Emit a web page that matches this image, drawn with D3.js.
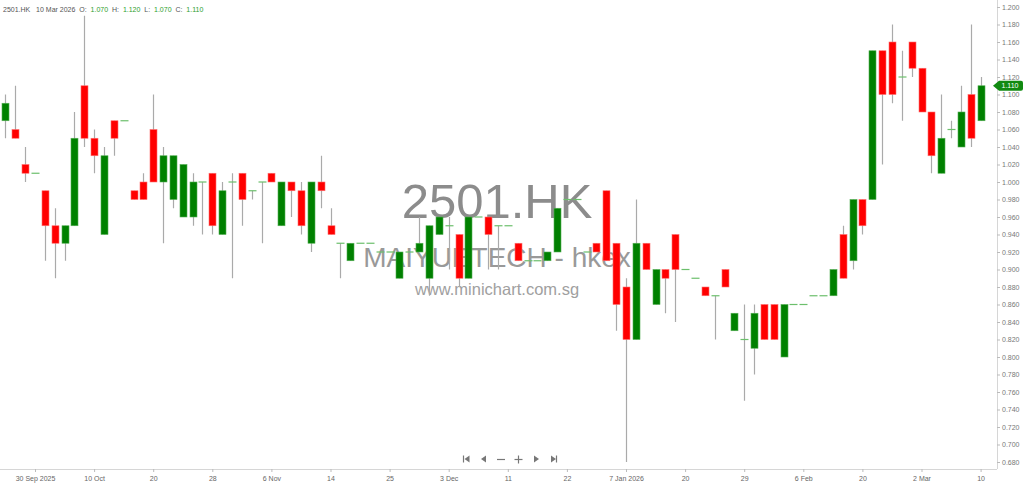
<!DOCTYPE html>
<html><head><meta charset="utf-8">
<script src="https://cdn.jsdelivr.net/npm/d3@7"></script>
<style>
html,body{margin:0;padding:0;background:#fff;}
svg{display:block;font-family:"Liberation Sans",Arial,sans-serif;}
</style></head>
<body><svg id="c" width="1024" height="484"></svg>
<script>
const symbol = "2501.HK";
const lastDate = "10 Mar 2026";
const opens  = [1.07,1.06,1.02,1.01,0.99,0.95,0.93,0.95,1.11,1.05,0.94,1.07,1.07,0.99,1.00,1.06,1.00,0.98,0.96,0.96,
                1.00,1.01,0.94,1.00,1.01,0.99,1.00,1.01,0.95,1.00,0.99,0.93,1.00,0.95,0.93,0.91,0.93,0.93,0.92,0.92,
                0.89,0.92,0.92,0.89,0.94,0.95,0.94,0.89,0.96,0.96,0.95,0.95,0.93,0.91,0.91,0.91,0.92,0.98,0.98,0.92,
                0.93,0.99,0.93,0.88,0.82,0.93,0.86,0.90,0.94,0.90,0.89,0.88,0.87,0.90,0.83,0.82,0.81,0.86,0.86,0.80,
                0.86,0.86,0.87,0.87,0.87,0.94,0.91,0.98,0.98,1.15,1.16,1.12,1.16,1.13,1.08,1.01,1.06,1.04,1.10,1.07];
const highs  = [1.10,1.11,1.04,1.01,0.99,0.97,0.95,1.08,1.19,1.06,1.04,1.07,1.07,0.99,1.01,1.10,1.04,1.03,1.02,1.01,
                1.00,1.01,1.00,1.01,1.01,0.99,1.00,1.01,1.00,1.00,1.00,1.00,1.03,0.97,0.93,0.93,0.93,0.93,0.92,0.92,
                0.92,0.92,0.96,0.95,0.96,0.96,0.94,0.96,0.96,0.96,0.95,0.95,0.93,0.91,0.91,0.92,0.97,0.98,0.98,0.92,
                0.93,0.99,0.93,0.89,0.98,0.93,0.90,0.90,0.94,0.90,0.89,0.88,0.87,0.90,0.85,0.86,0.86,0.86,0.86,0.86,
                0.86,0.86,0.87,0.87,0.90,0.95,0.98,0.98,1.15,1.15,1.18,1.15,1.16,1.13,1.08,1.10,1.07,1.11,1.18,1.12];
const lows   = [1.05,1.05,1.00,1.01,0.91,0.89,0.91,0.95,1.04,1.01,0.94,1.03,1.07,0.98,0.98,1.00,0.93,0.97,0.96,0.95,
                0.94,0.94,0.94,0.89,0.95,0.98,0.93,1.00,0.95,0.96,0.94,0.92,0.97,0.94,0.89,0.91,0.93,0.93,0.92,0.92,
                0.89,0.92,0.92,0.87,0.94,0.90,0.88,0.89,0.96,0.90,0.90,0.95,0.91,0.91,0.91,0.91,0.92,0.98,0.98,0.92,
                0.92,0.91,0.83,0.68,0.82,0.90,0.86,0.85,0.84,0.90,0.89,0.87,0.82,0.88,0.83,0.75,0.78,0.82,0.82,0.80,
                0.86,0.86,0.87,0.87,0.87,0.89,0.90,0.94,0.98,1.02,1.09,1.07,1.12,1.08,1.01,1.01,1.05,1.04,1.04,1.07];
const closes = [1.09,1.05,1.01,1.01,0.95,0.93,0.95,1.05,1.05,1.03,1.03,1.05,1.07,0.98,0.98,1.00,1.03,1.03,1.02,1.00,
                1.00,0.95,0.99,1.00,0.98,0.99,1.00,1.00,1.00,0.99,0.95,1.00,0.99,0.94,0.93,0.93,0.93,0.93,0.92,0.92,
                0.92,0.92,0.93,0.95,0.96,0.95,0.89,0.96,0.96,0.94,0.95,0.95,0.91,0.91,0.91,0.92,0.97,0.98,0.98,0.92,
                0.92,0.91,0.86,0.82,0.93,0.90,0.90,0.89,0.90,0.90,0.89,0.87,0.87,0.88,0.85,0.82,0.85,0.82,0.82,0.86,
                0.86,0.86,0.87,0.87,0.90,0.89,0.98,0.95,1.15,1.10,1.10,1.12,1.13,1.08,1.03,1.05,1.06,1.08,1.05,1.11];
const tickIdx    = [3,9,15,21,27,33,39,45,51,57,63,69,75,81,87,93,99];
const tickLabels = ["30 Sep 2025","10 Oct","20","28","6 Nov","14","25","3 Dec","11","22","7 Jan 2026","20","29","6 Feb","20","2 Mar","10"];
const priceTicks = d3.range(0, 27).map(k => +(0.68 + k*0.02).toFixed(3));

const svg = d3.select("#c");
const n = opens.length;
const x = d3.scaleLinear().domain([0, n-1]).range([5.45, 980.6]);
const y = d3.scaleLinear().domain([0.68, 1.20]).range([462, 7]);
const bw = 7;

// watermark
const wm = svg.append("g").attr("fill","#8c8c8c").attr("text-anchor","middle");
wm.append("text").attr("x",497).attr("y",218).attr("font-size",49).text(symbol);
wm.append("text").attr("x",497).attr("y",267).attr("font-size",28).attr("fill","#999").text("MAIYUETECH - hkex");
wm.append("text").attr("x",497).attr("y",295).attr("font-size",16.5).attr("fill","#a0a0a0").text("www.minichart.com.sg");

// axes
const gx = svg.append("g").attr("transform","translate(0,469)")
  .call(d3.axisBottom(x).tickValues(tickIdx).tickFormat((d,i)=>tickLabels[i]).tickSize(3).tickSizeOuter(0));
gx.select(".domain").attr("stroke","#d6d6d6").attr("d","M0,0.5H997");
gx.selectAll(".tick line").attr("stroke","#bbb");
gx.selectAll("text").attr("fill","#666").attr("font-size",7).attr("dy","0.9em");

const gy = svg.append("g").attr("transform","translate(997,0)")
  .call(d3.axisRight(y).tickValues(priceTicks).tickFormat(d3.format(".3f")).tickSize(3).tickSizeOuter(0));
gy.select(".domain").attr("stroke","#d6d6d6").attr("d","M0.5,0V469");
gy.selectAll(".tick line").attr("stroke","#bbb");
gy.selectAll("text").attr("fill","#777").attr("font-size",7).attr("x",5);

// candles
const data = d3.range(n).map(i => ({i, o:opens[i], h:highs[i], l:lows[i], c:closes[i]}));
const g = svg.append("g");
g.selectAll("line.wick").data(data.filter(d => d.h > d.l)).join("line")
  .attr("class","wick")
  .attr("x1", d => Math.round(x(d.i))+0.5).attr("x2", d => Math.round(x(d.i))+0.5)
  .attr("y1", d => y(d.h)).attr("y2", d => y(d.l))
  .attr("stroke","#aaa").attr("stroke-width",1.2);
g.selectAll("rect.body").data(data.filter(d => d.o !== d.c)).join("rect")
  .attr("class","body")
  .attr("x", d => Math.round(x(d.i)) + 0.5 - bw/2)
  .attr("width", bw)
  .attr("y", d => y(Math.max(d.o,d.c)))
  .attr("height", d => Math.abs(y(d.o)-y(d.c)))
  .attr("fill", d => d.c > d.o ? "#008000" : "#ff0000")
  .attr("stroke", d => d.c > d.o ? "#55b055" : "#ff7070").attr("stroke-width",0.6);
g.selectAll("line.doji").data(data.filter(d => d.o === d.c)).join("line")
  .attr("class","doji")
  .attr("x1", d => Math.round(x(d.i)) + 0.5 - 4).attr("x2", d => Math.round(x(d.i)) + 0.5 + 4)
  .attr("y1", d => y(d.c)).attr("y2", d => y(d.c))
  .attr("stroke","#6cbf6c").attr("stroke-width",1.2);

// header
const last = data[n-1];
const hdr = svg.append("text").attr("x",3).attr("y",12).attr("font-size",7).attr("fill","#555");
const parts = [[symbol+"   ","#555"],[lastDate+"  ","#555"],["O:  ","#555"],[last.o.toFixed(3)+"  ","#2ea02e"],
  ["H:  ","#555"],[last.h.toFixed(3)+"  ","#2ea02e"],["L:  ","#555"],[last.l.toFixed(3)+"  ","#2ea02e"],["C:  ","#555"],[last.c.toFixed(3),"#2ea02e"]];
hdr.attr("xml:space","preserve").style("white-space","pre");
parts.forEach(p => hdr.append("tspan").attr("fill",p[1]).text(p[0]));

// last price flag
const py = y(last.c);
svg.append("path").attr("d",`M993,${py} L999,${py-5} H1021 Q1023,${py-5} 1023,${py-3} V${py+3} Q1023,${py+5} 1021,${py+5} H999 Z`)
  .attr("fill","#118a11");
svg.append("text").attr("x",1010).attr("y",py+2.5).attr("font-size",7).attr("fill","#fff").attr("text-anchor","middle").text(last.c.toFixed(3));

// navigation controls
const nav = svg.append("g").attr("fill","#777").attr("stroke","#777");
const ny = 459;
nav.append("line").attr("x1",463.5).attr("x2",463.5).attr("y1",ny-3.5).attr("y2",ny+3.5).attr("stroke-width",1.2);
nav.append("path").attr("d",`M464.5,${ny} L469.5,${ny-3.5} V${ny+3.5} Z`).attr("stroke","none");
nav.append("path").attr("d",`M481,${ny} L486,${ny-3.5} V${ny+3.5} Z`).attr("stroke","none");
nav.append("line").attr("x1",497).attr("x2",505).attr("y1",ny+0.5).attr("y2",ny+0.5).attr("stroke-width",1.2);
nav.append("line").attr("x1",514.5).attr("x2",522.5).attr("y1",ny+0.5).attr("y2",ny+0.5).attr("stroke-width",1.2);
nav.append("line").attr("x1",518.5).attr("x2",518.5).attr("y1",ny-3.5).attr("y2",ny+4.5).attr("stroke-width",1.2);
nav.append("path").attr("d",`M539,${ny} L534,${ny-3.5} V${ny+3.5} Z`).attr("stroke","none");
nav.append("path").attr("d",`M556,${ny} L551,${ny-3.5} V${ny+3.5} Z`).attr("stroke","none");
nav.append("line").attr("x1",556.5).attr("x2",556.5).attr("y1",ny-3.5).attr("y2",ny+3.5).attr("stroke-width",1.2);
</script></body></html>
